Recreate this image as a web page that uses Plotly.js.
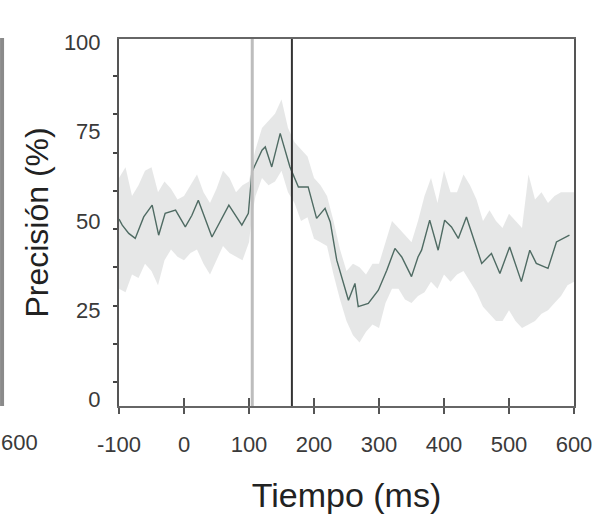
<!DOCTYPE html>
<html>
<head>
<meta charset="utf-8">
<script src="https://cdn.plot.ly/plotly-3.0.1.min.js"></script>
<style>
  html, body { margin: 0; padding: 0; background: #fff; }
  #chart { width: 614px; height: 514px; }
</style>
</head>
<body>
<div id="chart"></div>
<script>
// ---- data ----
const timeMs = [-100, -95, -85, -75, -62, -49, -39, -29, -13, 2, 12, 22, 43, 69, 89, 99, 104.5, 120, 125, 135, 148, 163, 176, 191, 204, 217, 225, 235, 253, 263, 268, 283.5, 299, 312, 324.5, 335, 350, 360, 365.5, 378, 391, 401, 411.5, 422, 434.5, 445, 458, 473, 486, 501, 519, 532, 542, 560, 573, 593];
const precision = [50.5, 48.8, 46.5, 45.1, 51.1, 54.4, 46.0, 52.1, 53.0, 48.3, 51.5, 55.8, 45.5, 54.4, 48.8, 52.1, 63.7, 69.8, 70.7, 65.1, 74.5, 65.1, 59.5, 59.5, 50.7, 53.5, 49.7, 39.0, 27.8, 32.5, 26.0, 26.9, 30.6, 36.2, 42.3, 39.9, 34.4, 39.9, 41.8, 50.2, 41.8, 50.2, 48.3, 45.1, 51.1, 45.1, 38.1, 40.9, 35.3, 42.7, 33.0, 41.8, 38.1, 36.7, 44.1, 46.0];
const bandTimeMs = [-100, -90, -80, -70, -60, -50, -40, -30, -20, -10, 0, 10, 20, 30, 40, 50, 60, 70, 80, 90, 100, 105, 110, 120, 130, 140, 150, 160, 170, 180, 190, 200, 210, 220, 230, 240, 250, 260, 270, 280, 290, 300, 310, 320, 330, 340, 350, 360, 370, 380, 390, 400, 410, 420, 430, 440, 450, 460, 470, 480, 490, 500, 510, 520, 530, 540, 550, 560, 570, 580, 590, 600];
const upperBound = [62, 65, 57, 60, 64, 65, 58, 61, 59, 56, 57, 60, 63, 58, 55, 59, 64, 62, 58, 60, 61, 66, 70, 76, 78, 80, 84, 76, 72, 70, 68, 62, 60, 57, 50, 42, 36, 38, 37, 35, 38, 38, 44, 50, 48, 46, 44, 50, 57, 62, 55, 64, 58, 58, 63, 60, 56, 50, 53, 50, 48, 52, 50, 48, 63, 56, 58, 55, 57, 58, 58, 58];
const lowerBound = [31, 30, 35, 34, 38, 36, 32, 39, 42, 40, 39, 41, 42, 38, 35, 39, 43, 41, 40, 39, 44, 52, 57, 62, 60, 61, 64, 58, 55, 50, 51, 45, 44, 43, 35, 28, 22, 18, 16, 19, 21, 20, 27, 31, 31, 28, 27, 29, 30, 33, 31, 35, 33, 35, 36, 33, 30, 26, 24, 22, 22, 25, 22, 20, 21, 22, 24, 25, 27, 29, 32, 33];
const eventTimes = [105, 166];          // gray and black vertical markers
const xTickValues = [-100, 0, 100, 200, 300, 400, 500, 600];
const xTickLabels = ['-100', '0', '100', '200', '300', '400', '500', '600'];
const yTickValues = [0, 25, 50, 75, 100];
const yTickLabels = ['0', '25', '50', '75', '100'];
const yMinorStart = 4.9, yMinorStep = 10.7;
const xRange = [-100, 600];
const yRange = [-1.8, 100.9];

// ---- chart ----
const font = 'Liberation Sans, Arial, sans-serif';
const traces = [
  { x: bandTimeMs, y: lowerBound, type: 'scatter', mode: 'lines',
    line: { color: 'rgba(0,0,0,0)', width: 0 }, hoverinfo: 'skip', showlegend: false },
  { x: bandTimeMs, y: upperBound, type: 'scatter', mode: 'lines', fill: 'tonexty',
    fillcolor: 'rgba(205,207,207,0.5)',
    line: { color: 'rgba(0,0,0,0)', width: 0 }, hoverinfo: 'skip', showlegend: false },
  { x: timeMs, y: precision, type: 'scatter', mode: 'lines',
    line: { color: '#4f6b63', width: 1.4 }, showlegend: false },
  { x: xRange, y: yRange, xaxis: 'x2', type: 'scatter', mode: 'markers',
    marker: { opacity: 0 }, hoverinfo: 'skip', showlegend: false }
];

const shapes = [
  { type: 'line', xref: 'x', yref: 'paper', x0: eventTimes[0], x1: eventTimes[0], y0: 0, y1: 1,
    line: { color: '#bdbdbd', width: 3 } },
  { type: 'line', xref: 'x', yref: 'paper', x0: eventTimes[1], x1: eventTimes[1], y0: 0, y1: 1,
    line: { color: '#333', width: 2 } },
  // right edge of the neighbouring (cropped) panel
  { type: 'line', xref: 'paper', yref: 'paper', x0: -0.257, x1: -0.257, y0: 0, y1: 1.003,
    line: { color: '#8a8a8a', width: 4 } }
];

const layout = {
  width: 614, height: 514,
  margin: { l: 119, r: 40, t: 39, b: 108, pad: 0 },
  paper_bgcolor: '#fff', plot_bgcolor: '#fff',
  font: { family: font, color: '#333' },
  showlegend: false,
  xaxis: {
    range: xRange, tickvals: xTickValues, ticktext: xTickLabels,
    ticks: 'outside', ticklen: 6, tickwidth: 1.5, tickcolor: '#555',
    showline: true, linecolor: '#666', linewidth: 2, mirror: true,
    showgrid: false, zeroline: false,
    tickfont: { family: font, size: 22, color: '#3a3a3a' },
    ticklabelstandoff: 12,
    title: { text: 'Tiempo (ms)', font: { family: font, size: 34, color: '#222' }, standoff: 27 },
    automargin: false
  },
  xaxis2: {
    overlaying: 'x', anchor: 'y', side: 'bottom',
    range: xRange, tickvals: xTickValues,
    ticks: 'inside', ticklen: 8, tickwidth: 1.5, tickcolor: '#555',
    showticklabels: false, showline: false, showgrid: false, zeroline: false
  },
  yaxis: {
    range: yRange, tickvals: yTickValues, ticktext: yTickLabels,
    ticks: '', showline: true, linecolor: '#555', linewidth: 2, mirror: true,
    showgrid: false, zeroline: false,
    minor: { tick0: yMinorStart, dtick: yMinorStep, ticks: 'outside', ticklen: 4, tickwidth: 2, tickcolor: '#444', showgrid: false },
    tickfont: { family: font, size: 22, color: '#3a3a3a' },
    ticklabelstandoff: 12,
    title: { text: 'Precisión (%)', font: { family: font, size: 32, color: '#222' }, standoff: 6 },
    automargin: false
  },
  shapes: shapes,
  annotations: [
    { text: '600', xref: 'paper', yref: 'paper', x: -0.218, y: -0.1, xanchor: 'center', yanchor: 'middle',
      showarrow: false, font: { family: font, size: 22, color: '#3a3a3a' } }
  ]
};

Plotly.newPlot('chart', traces, layout, { staticPlot: true, displayModeBar: false });
</script>
</body>
</html>
